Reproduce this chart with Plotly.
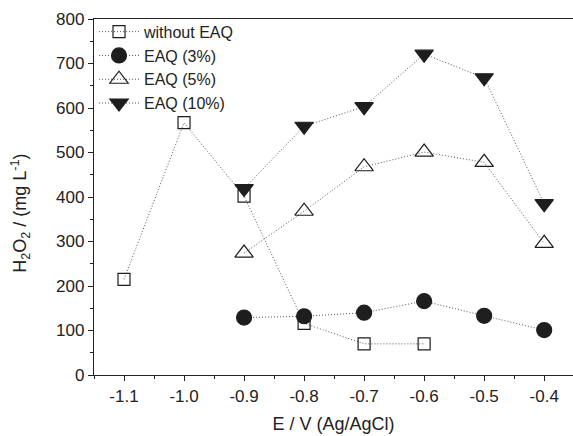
import plotly.graph_objects as go

x_without = [-1.1, -1.0, -0.9, -0.8, -0.7, -0.6]
y_without = [215, 567, 402, 116, 70, 70]

x_eaq = [-0.9, -0.8, -0.7, -0.6, -0.5, -0.4]
y_eaq3 = [129, 132, 140, 166, 133, 101]
y_eaq5 = [274, 368, 468, 501, 478, 296]
y_eaq10 = [419, 559, 603, 721, 668, 385]

x_ticks = [-1.1, -1.0, -0.9, -0.8, -0.7, -0.6, -0.5, -0.4]
x_ticklabels = ["-1.1", "-1.0", "-0.9", "-0.8", "-0.7", "-0.6", "-0.5", "-0.4"]
y_ticks = [0, 100, 200, 300, 400, 500, 600, 700, 800]

ink = "#1e1e1e"
line_style = dict(color="#555555", width=1, dash="1px,2px")

series = [
    ("without EAQ", x_without, y_without, "square-open", 12),
    ("EAQ (3%)", x_eaq, y_eaq3, "circle", 15),
    ("EAQ (5%)", x_eaq, y_eaq5, "triangle-up-open", 16),
    ("EAQ (10%)", x_eaq, y_eaq10, "triangle-down", 16),
]

fig = go.Figure()
for name, xs, ys, sym, sz in series:
    fig.add_trace(go.Scatter(
        x=xs, y=ys, name=name, mode="lines+markers",
        line=line_style,
        marker=dict(symbol=sym, size=sz, color=ink,
                    line=dict(color=ink, width=1.2)),
    ))

font = "Liberation Sans, Arial, sans-serif"
fig.update_layout(
    width=573, height=436,
    margin=dict(l=94, r=0, t=19, b=61),
    paper_bgcolor="white", plot_bgcolor="white",
    font=dict(family=font, size=17, color="#222222"),
    showlegend=True,
    legend=dict(x=0.0, y=1.012, xanchor="left", yanchor="top",
                bgcolor="rgba(0,0,0,0)", font=dict(size=16),
                itemwidth=40, tracegroupgap=0),
    xaxis=dict(
        range=[-1.15, -0.352],
        tickvals=x_ticks, ticktext=x_ticklabels,
        ticks="outside", ticklen=5, tickwidth=1, tickcolor="#222222",
        showline=True, linecolor="#222222", linewidth=1.3, mirror=True,
        showgrid=False, zeroline=False,
        minor=dict(dtick=0.05, tick0=0, ticks="outside", ticklen=3,
                   tickcolor="#222222"),
        title=dict(text="E / V (Ag/AgCl)", standoff=12, font=dict(size=18)),
        tickfont=dict(size=17),
    ),
    yaxis=dict(
        range=[0, 800],
        tickvals=y_ticks,
        ticks="outside", ticklen=5, tickwidth=1, tickcolor="#222222",
        showline=True, linecolor="#222222", linewidth=1.3,
        showgrid=False, zeroline=False,
        minor=dict(dtick=50, ticks="outside", ticklen=3,
                   tickcolor="#222222"),
        tickfont=dict(size=17),
    ),
    annotations=[dict(
        text="H<sub>2</sub>O<sub>2</sub> / (mg L<sup>-1</sup>)",
        xref="paper", yref="paper", x=-0.155, y=0.455,
        xanchor="center", yanchor="middle", textangle=-90,
        showarrow=False, font=dict(size=18, color="#222222"),
    )],
)

fig.write_html("out.html")
